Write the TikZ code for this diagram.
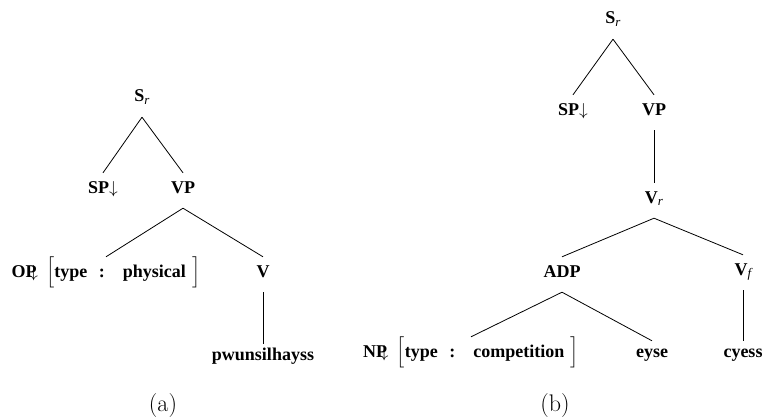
\documentclass[tikz,border=0pt]{standalone}
\usepackage{amsmath}
\usepackage{fontspec}
\newfontfamily\tms{Liberation Serif}
\newcommand\catsub[1]{\raisebox{-0.35ex}{\fontsize{13}{13}\selectfont\mdseries\itshape #1}}
% substitution node with its feature structure
\newcommand\featbox[2]{#1\kern-.4em$\downarrow$\hspace{0.45em}%
  $\Big[$type\hspace{0.65em}:\hspace{1.0em}#2\hspace{0.35em}$\Big]$}
\tikzset{
  cat/.style={font=\tms\bfseries\fontsize{18}{20}\selectfont, inner sep=0pt,
              text height=20pt, text depth=15pt, anchor=base},
  leaf/.style={cat, text height=16pt},
  branch/.style={draw, line width=0.8pt},
  capt/.style={font=\fontsize{24}{28}\selectfont, inner sep=0pt}
}
\begin{document}
\begin{tikzpicture}[x=1pt, y=-1pt]
\useasboundingbox (0,0) rectangle (763,420);

% tree (a)
\node[cat] (sra) at (142,102) {S\catsub{r}};
\node[cat] (spa) at (103,193) {SP$\downarrow$};
\node[cat] (vpa) at (183,193) {VP};
\node[cat] (opa) at (106,277) {\featbox{OP}{physical}};
\node[cat] (va) at (263,277) {V};
\node[leaf] (pwa) at (263,360) {pwunsilhayss};
\node[capt] (capa) at (163,406) {(a)};

\draw[branch] (sra.south) -- (spa.north);
\draw[branch] (sra.south) -- (vpa.north);
\draw[branch] (vpa.south) -- (opa.north);
\draw[branch] (vpa.south) -- (va.north);
\draw[branch] (va.south) -- (pwa.north);

% tree (b)
\node[cat] (srb) at (613,24) {S\catsub{r}};
\node[cat] (spb) at (573,115) {SP$\downarrow$};
\node[cat] (vpb) at (654,115) {VP};
\node[cat] (vrb) at (654,203) {V\catsub{r}};
\node[cat] (adp) at (562,277) {ADP};
\node[cat] (vfb) at (743,275) {V\catsub{f}};
\node[cat] (npb) at (471,357) {\featbox{NP}{competition}};
\node[leaf] (eyse) at (652,357) {eyse};
\node[leaf] (cyess) at (743,357) {cyess};
\node[capt] (capb) at (555,406) {(b)};

\draw[branch] (srb.south) -- (spb.north);
\draw[branch] (srb.south) -- (vpb.north);
\draw[branch] (vpb.south) -- (vrb.north);
\draw[branch] (vrb.south) -- (adp.north);
\draw[branch] (vrb.south) -- (vfb.north);
\draw[branch] (adp.south) -- (npb.north);
\draw[branch] (adp.south) -- (eyse.north);
\draw[branch] (vfb.south) -- (cyess.north);
\end{tikzpicture}
\end{document}
